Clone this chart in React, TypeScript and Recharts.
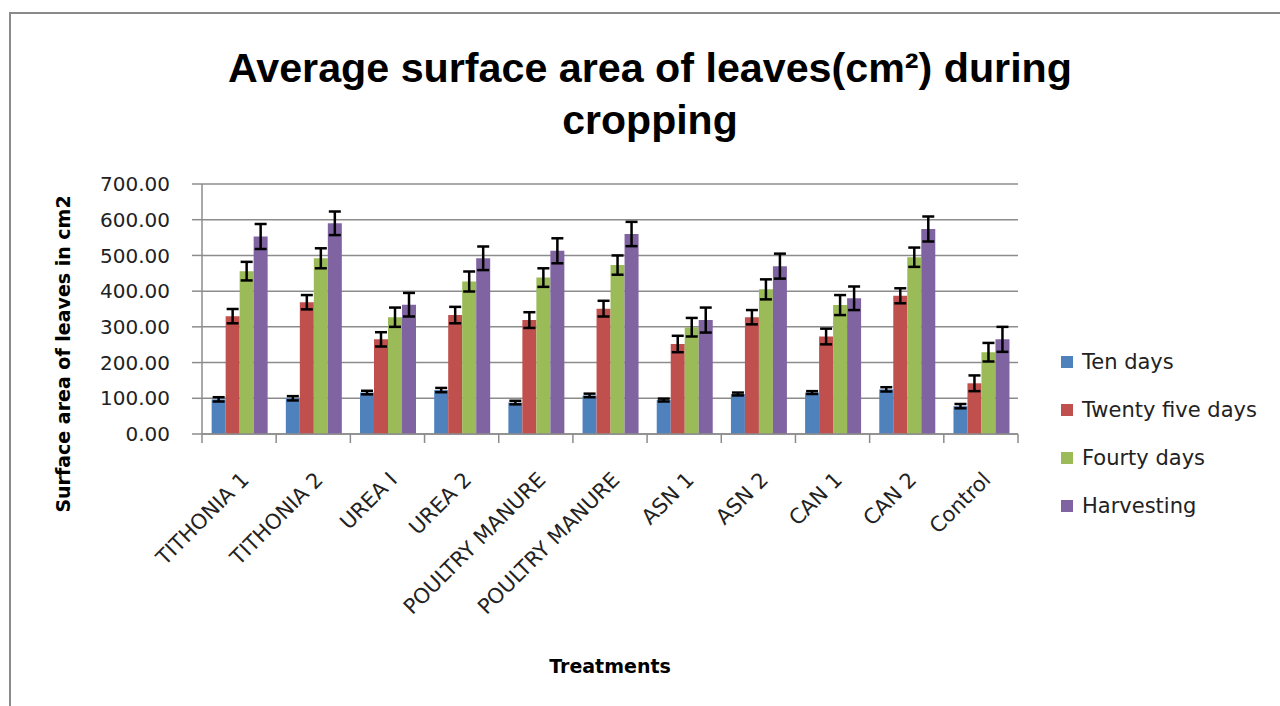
import { Bar, BarChart, CartesianGrid, ErrorBar, XAxis, YAxis } from "recharts";

const categories = [
  "TITHONIA 1",
  "TITHONIA 2",
  "UREA I",
  "UREA 2",
  "POULTRY MANURE",
  "POULTRY MANURE",
  "ASN 1",
  "ASN 2",
  "CAN 1",
  "CAN 2",
  "Control",
];

const tenDays = [97, 100, 116, 123, 88, 108, 95, 112, 116, 125, 78];
const twentyFiveDays = [330, 369, 265, 333, 319, 351, 252, 327, 273, 387, 142];
const fourtyDays = [456, 492, 327, 427, 438, 473, 299, 405, 361, 495, 229];
const harvesting = [553, 590, 362, 492, 513, 560, 319, 470, 380, 574, 265];

const tenDaysErr = [6, 6, 5, 6, 5, 5, 4, 4, 4, 6, 6];
const twentyFiveDaysErr = [20, 20, 20, 23, 22, 22, 23, 20, 22, 21, 22];
const fourtyDaysErr = [26, 28, 27, 28, 26, 27, 26, 28, 28, 27, 26];
const harvestingErr = [35, 33, 33, 33, 35, 34, 35, 35, 33, 35, 35];

const yTicks = [0, 100, 200, 300, 400, 500, 600, 700];

const series = [
  { key: "ten", err: "tenErr", name: "Ten days", color: "#4F81BD" },
  { key: "twentyFive", err: "twentyFiveErr", name: "Twenty five days", color: "#C0504D" },
  { key: "fourty", err: "fourtyErr", name: "Fourty days", color: "#9BBB59" },
  { key: "harvest", err: "harvestErr", name: "Harvesting", color: "#8064A2" },
];

const data = categories.map((name, i) => ({
  name,
  ten: tenDays[i],
  twentyFive: twentyFiveDays[i],
  fourty: fourtyDays[i],
  harvest: harvesting[i],
  tenErr: tenDaysErr[i],
  twentyFiveErr: twentyFiveDaysErr[i],
  fourtyErr: fourtyDaysErr[i],
  harvestErr: harvestingErr[i],
}));

const GRID = "#8c8c8c";

function CategoryTick(props: any) {
  const { x, y, payload, index, visibleTicksCount } = props;
  const half = payload?.offset ?? 0;
  const last = index === (visibleTicksCount ?? categories.length) - 1;
  return (
    <g>
      <line x1={x - half} x2={x - half} y1={y} y2={y + 9} stroke={GRID} strokeWidth={1.5} />
      {last && <line x1={x + half} x2={x + half} y1={y} y2={y + 9} stroke={GRID} strokeWidth={1.5} />}
      <text
        transform={`translate(${x + 11},${y + 47}) rotate(-45)`}
        textAnchor="end"
        fontFamily="DejaVu Sans"
        fontSize={21}
        fill="#222"
      >
        {payload.value}
      </text>
    </g>
  );
}

export default function App() {
  return (
    <div style={{ position: "relative", width: 1280, height: 706, background: "#fff", overflow: "hidden" }}>
      <style>{"body{margin:0}"}</style>
      <div
        style={{
          position: "absolute",
          left: 9,
          top: 12,
          width: 1400,
          height: 800,
          border: "2px solid #8a8a8a",
          boxSizing: "border-box",
        }}
      />
      <div style={{ position: "absolute", left: 0, top: 0 }}>
        <BarChart
          width={1280}
          height={706}
          data={data}
          margin={{ top: 184, right: 262, bottom: 242, left: 92 }}
          barCategoryGap="13%"
          barGap={0}
        >
          <CartesianGrid vertical={false} stroke={GRID} strokeWidth={1.5} />
          <XAxis
            dataKey="name"
            height={30}
            interval={0}
            tickLine={false}
            tickSize={0}
            tickMargin={0}
            axisLine={{ stroke: GRID, strokeWidth: 1.5 }}
            tick={<CategoryTick />}
          />
          <YAxis
            width={110}
            domain={[0, 700]}
            ticks={yTicks}
            interval={0}
            tickSize={10}
            tickMargin={22}
            tickFormatter={(v: number) => v.toFixed(2)}
            tick={{ fontFamily: "DejaVu Sans", fontSize: 20, fill: "#222" }}
            tickLine={{ stroke: GRID, strokeWidth: 1.5 }}
            axisLine={{ stroke: GRID, strokeWidth: 1.5 }}
          />
          {series.map((s) => (
            <Bar key={s.key} dataKey={s.key} name={s.name} fill={s.color} isAnimationActive={false}>
              <ErrorBar dataKey={s.err} width={6} stroke="#000" strokeWidth={2.5} direction="y" isAnimationActive={false} />
            </Bar>
          ))}
        </BarChart>
      </div>
      <svg width={1280} height={706} style={{ position: "absolute", left: 0, top: 0, pointerEvents: "none" }}>
        <text
          x={650}
          y={82}
          textAnchor="middle"
          fontFamily="Liberation Sans"
          fontWeight="bold"
          fontSize={41}
          textLength={844}
          lengthAdjust="spacingAndGlyphs"
          fill="#000"
        >
          Average surface area of leaves(cm²) during
        </text>
        <text x={650} y={134} textAnchor="middle" fontFamily="Liberation Sans" fontWeight="bold" fontSize={41} fill="#000">
          cropping
        </text>
        <text
          transform="translate(70,354) rotate(-90)"
          textAnchor="middle"
          fontFamily="DejaVu Sans"
          fontWeight="bold"
          fontSize={19}
          fill="#000"
        >
          Surface area of leaves in cm2
        </text>
        <text x={610} y={673} textAnchor="middle" fontFamily="DejaVu Sans" fontWeight="bold" fontSize={19} fill="#000">
          Treatments
        </text>
      </svg>
      <div style={{ position: "absolute", left: 1061, top: 347 }}>
        {series.map((s) => (
          <div key={s.key} style={{ display: "flex", alignItems: "center", height: 30, marginBottom: 18 }}>
            <span style={{ display: "inline-block", width: 12, height: 12, background: s.color, marginRight: 9 }} />
            <span style={{ fontFamily: "DejaVu Sans", fontSize: 21, color: "#222", whiteSpace: "nowrap" }}>{s.name}</span>
          </div>
        ))}
      </div>
    </div>
  );
}
